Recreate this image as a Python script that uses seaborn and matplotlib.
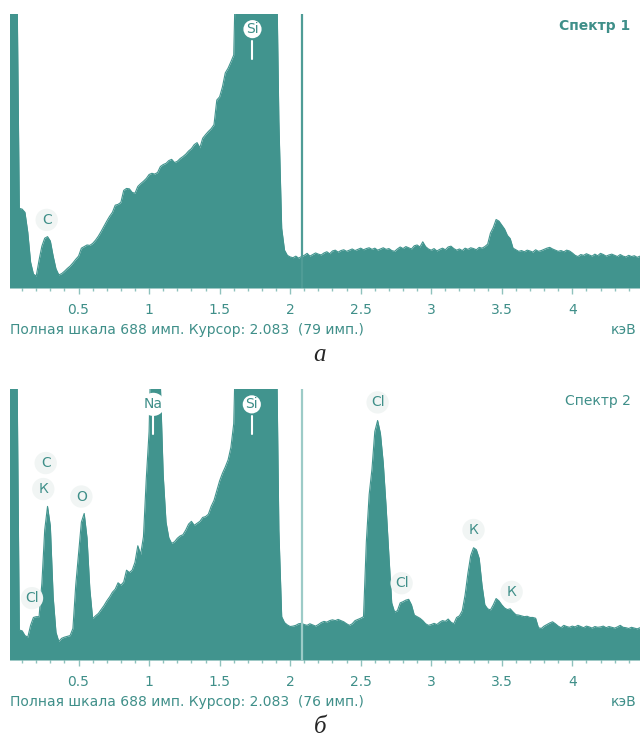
import numpy as np
import pandas as pd
import seaborn as sns
import matplotlib.pyplot as plt

sns.set_theme(style="white")
plt.rcParams['font.family'] = ['DejaVu Sans']

TEAL = '#41948e'
TEXT = '#3f8f89'

# channel energies, keV (0.02 keV wide channels)
energy = np.round(np.arange(0, 4.49, 0.02), 2)

# counts (values above 688 are off-scale)
counts_1 = [
    900, 900, 900, 900, 200, 198, 190, 140, 65, 35,
    30, 70, 105, 125, 129, 118, 80, 48, 33, 36,
    42, 49, 55, 63, 72, 80, 100, 104, 108, 107,
    112, 120, 130, 142, 155, 168, 180, 190, 208, 210,
    215, 245, 250, 249, 240, 238, 255, 262, 268, 275,
    285, 288, 286, 290, 305, 310, 313, 320, 323, 315,
    318, 325, 330, 336, 344, 350, 360, 365, 352, 376,
    385, 393, 400, 410, 472, 480, 505, 540, 552, 568,
    585, 900, 900, 900, 900, 900, 900, 900, 900, 900,
    900, 900, 900, 900, 900, 900, 420, 150, 95, 82,
    78, 76, 80, 75, 79, 82, 87, 80, 84, 88,
    85, 83, 88, 91, 86, 93, 95, 90, 94, 96,
    92, 95, 98, 94, 97, 100, 96, 99, 101, 97,
    100, 95, 98, 101, 97, 99, 94, 92, 98, 103,
    99, 104, 101, 98, 106, 108, 103, 116, 104, 98,
    95, 99, 93, 97, 100, 96, 103, 105, 99, 95,
    98, 94, 100, 97, 101, 99, 96, 102, 100, 104,
    110, 138, 152, 172, 168, 158, 148, 132, 124, 100,
    96, 92, 94, 91, 95, 93, 90, 96, 92, 94,
    97, 100, 102, 98, 95, 92, 94, 91, 95, 93,
    88, 82, 79, 84, 82, 86, 83, 80, 85, 81,
    87, 84, 80, 83, 85, 82, 79, 84, 80, 78,
    82, 79, 81, 77, 80,
]

counts_2 = [
    900, 900, 900, 900, 76, 74, 62, 58, 88, 108,
    110, 110, 195, 330, 390, 340, 160, 70, 47, 55,
    58, 60, 62, 80, 190, 270, 350, 372, 310, 180,
    105, 112, 118, 128, 138, 150, 160, 172, 180, 196,
    190, 198, 228, 222, 228, 248, 290, 268, 313, 460,
    580, 900, 900, 900, 700, 470, 350, 310, 296, 300,
    309, 315, 318, 330, 345, 352, 342, 347, 352, 362,
    364, 370, 390, 405, 430, 455, 474, 490, 508, 540,
    600, 900, 900, 900, 900, 900, 900, 900, 900, 900,
    900, 900, 900, 900, 900, 900, 330, 110, 95, 89,
    85, 86, 88, 92, 93, 90, 88, 92, 89, 86,
    90, 95, 98, 96, 100, 102, 100, 103, 100, 97,
    92, 88, 92, 100, 103, 106, 110, 300, 420, 485,
    580, 608, 575, 500, 390, 265, 145, 122, 125, 145,
    148, 152, 154, 140, 114, 110, 106, 100, 92, 88,
    90, 93, 90, 96, 100, 98, 104, 96, 92, 108,
    112, 125, 165, 220, 265, 285, 280, 258, 190, 140,
    130, 127, 140, 156, 150, 140, 132, 128, 130, 122,
    115, 114, 112, 110, 111, 108, 108, 106, 82, 80,
    86, 90, 94, 97, 92, 86, 82, 88, 85, 83,
    86, 84, 88, 85, 82, 86, 84, 81, 85, 83,
    84, 86, 82, 85, 83, 81, 84, 88, 83, 82,
    80, 83, 81, 79, 82,
]

# element labels: (text, keV, counts, white disc)
labels_1 = [('C', 0.274, 171, False), ('Si', 1.733, 650, True)]
labels_2 = [('Cl', 0.17, 157, False), ('C', 0.267, 500, False), ('К', 0.25, 434, False),
            ('O', 0.52, 415, False), ('Na', 1.03, 649, True), ('Si', 1.728, 649, True),
            ('Cl', 2.62, 654, False), ('Cl', 2.79, 195, False),
            ('К', 3.30, 330, False), ('К', 3.57, 173, False)]

full_scale = 688
cursor = 2.083
cursor_counts = [79, 76]
titles = ['Спектр 1', 'Спектр 2']
captions = ['а', 'б']
ticks = [0.5, 1, 1.5, 2, 2.5, 3, 3.5, 4]
tick_labels = ['0.5', '1', '1.5', '2', '2.5', '3', '3.5', '4']

fig = plt.figure(figsize=(6.4, 7.38), dpi=100)
ax1 = fig.add_axes([10 / 640, 450 / 738, 630 / 640, 274 / 738])
ax2 = fig.add_axes([10 / 640, 78 / 738, 630 / 640, 271 / 738])

panels = [(ax1, counts_1, labels_1, True, '#4f9c96'),
          (ax2, counts_2, labels_2, False, '#9ccbc7')]

for i, (ax, counts, labels, bold, cur_col) in enumerate(panels):
    df = pd.DataFrame({'keV': energy, 'counts': counts})
    sns.lineplot(data=df, x='keV', y='counts', ax=ax, color=TEAL, lw=0.8)
    ax.fill_between(df['keV'], df['counts'], color=TEAL, lw=0)
    ax.axvline(cursor, color=cur_col, lw=1.6, zorder=3)
    ax.set_xlim(0.014, 4.48)
    ax.set_ylim(0, full_scale)
    ax.set_yticks([])
    ax.set_xticks(ticks)
    ax.set_xticklabels(tick_labels, color=TEXT, fontsize=10)
    ax.set_xticks(np.round(np.arange(0.1, 4.48, 0.1), 1), minor=True)
    ax.tick_params(axis='x', which='major', direction='out', length=4.5, width=1,
                   color='#8fc2bd', pad=6, bottom=True)
    ax.tick_params(axis='x', which='minor', direction='out', length=2.2, width=1,
                   color='#8fc2bd', bottom=True)
    ax.set_xlabel('')
    ax.set_ylabel('')
    for s in ax.spines.values():
        s.set_visible(False)

    for txt, x, y, disc in labels:
        if disc:
            ax.plot([x, x], [y - 75, y - 30], color='white', lw=1.5, zorder=4)
            ax.text(x, y, txt, ha='center', va='center', color=TEXT, fontsize=10,
                    zorder=5, bbox=dict(boxstyle='circle,pad=0.15', fc='white', ec='none'))
        else:
            ax.text(x, y, txt, ha='center', va='center', color=TEXT, fontsize=10,
                    zorder=5, bbox=dict(boxstyle='circle,pad=0.3', fc='#f1f5f4', ec='none'))

    ax.text(0.985, 0.955, titles[i], transform=ax.transAxes, ha='right', va='center',
            color=TEXT, fontsize=10, fontweight='bold' if bold else 'normal')
    ax.text(0.0, -0.155, f'Полная шкала {full_scale} имп. Курсор: {cursor:.3f}  ({cursor_counts[i]} имп.)',
            transform=ax.transAxes, ha='left', va='center', color=TEXT, fontsize=10)
    ax.text(0.995, -0.155, 'кэВ', transform=ax.transAxes, ha='right', va='center',
            color=TEXT, fontsize=10)

fig.text(0.5, 1 - 355 / 738, captions[0], ha='center', va='center', fontsize=18,
         family='Liberation Serif', style='italic')
fig.text(0.5, 1 - 727 / 738, captions[1], ha='center', va='center', fontsize=18,
         family='Liberation Serif', style='italic')

fig.savefig('out.png', dpi=100)
